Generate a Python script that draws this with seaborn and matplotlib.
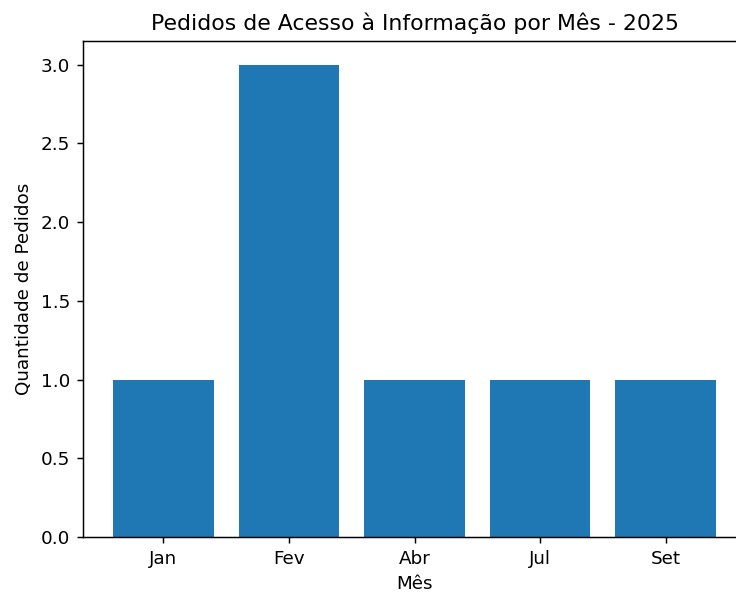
import matplotlib
matplotlib.use("Agg")
import matplotlib.pyplot as plt
import seaborn as sns
import pandas as pd

# dados
meses = ["Jan", "Fev", "Abr", "Jul", "Set"]
quantidades = [1, 3, 1, 1, 1]

df = pd.DataFrame({"Mês": meses, "Quantidade": quantidades})

DPI = 132
fig = plt.figure(figsize=(736 / DPI, 594 / DPI), dpi=DPI)
# eixo estende além da borda direita (imagem recortada)
ax = fig.add_axes([83 / 736, 1 - 537 / 594, (746 - 83) / 736, (537 - 41) / 594])

sns.barplot(data=df, x="Mês", y="Quantidade", color="#1f77b4",
            saturation=1, width=0.8, ax=ax)

ax.set_xlim(-0.64, 4.64)
ax.set_ylim(0, 3.15)
ax.set_title("Pedidos de Acesso à Informação por Mês - 2025")
ax.set_xlabel("Mês")
ax.set_ylabel("Quantidade de Pedidos")

fig.savefig("out.png", dpi=DPI)
